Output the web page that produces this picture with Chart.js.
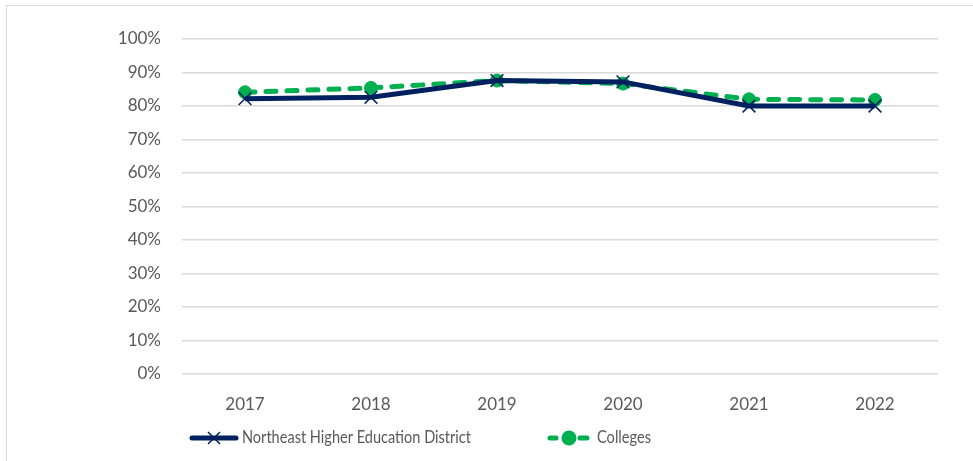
<!DOCTYPE html>
<html lang="en">
<head>
<meta charset="UTF-8"/>
<title>District vs Colleges</title>
<script src="https://cdn.jsdelivr.net/npm/chart.js"></script>
<style>
  html, body { margin:0; padding:0; background:#fff; }
  #wrap { position:relative; width:973px; height:461px; }
  #frame { position:absolute; left:6px; top:5px; width:980px; height:470px;
           border-top:1px solid #d9d9d9; border-left:1px solid #d9d9d9; box-sizing:border-box; }
</style>
</head>
<body>
<div id="wrap">
  <div id="frame"></div>
  <canvas id="rateChart" width="973" height="461"></canvas>
</div>
<script>
// data (percent)
const years    = ["2017","2018","2019","2020","2021","2022"];
const district = [82.2, 82.6, 87.6, 87.2, 80.0, 80.0];
const colleges = [84.1, 85.4, 87.6, 86.7, 82.0, 81.8];
const yTicks   = [0,10,20,30,40,50,60,70,80,90,100];

const NAVY  = '#002060';
const GREEN = '#00B050';
const FONT  = { family: 'Lato, "Liberation Sans", sans-serif', size: 17 };
const TXT   = '#595959';

// bottom legend drawn like the Excel one (line + marker + label)
const excelLegend = {
  id: 'excelLegend',
  afterDraw(chart, args, opts){
    const c = chart.ctx;
    const y = opts.y;
    chart.data.datasets.forEach((ds, i) => {
      const it = opts.items[i];
      const cx = it.mx;
      c.save();
      c.strokeStyle = ds.borderColor;
      c.lineWidth = ds.borderWidth;
      c.lineCap = 'round';
      c.beginPath();
      it.segs.forEach(s => { c.moveTo(s[0], y); c.lineTo(s[1], y); });
      c.stroke();
      c.fillStyle = ds.pointBackgroundColor;
      c.strokeStyle = ds.pointBorderColor;
      c.lineWidth = ds.pointBorderWidth;
      c.lineCap = 'butt';
      c.beginPath();
      if (ds.pointStyle === 'circle') {
        c.arc(cx, y, it.r, 0, Math.PI * 2);
        c.fill();
      } else {
        const r = it.r;
        c.moveTo(cx - r, y - r); c.lineTo(cx + r, y + r);
        c.moveTo(cx + r, y - r); c.lineTo(cx - r, y + r);
        c.stroke();
      }
      c.fillStyle = TXT;
      c.font = '17px ' + FONT.family;
      c.textBaseline = 'middle';
      c.fillText(ds.label, it.tx, y, it.tw);
      c.restore();
    });
  }
};

new Chart(document.getElementById('rateChart').getContext('2d'), {
  type: 'line',
  data: {
    labels: years,
    datasets: [{
      label: 'Northeast Higher Education District',
      data: district,
      borderColor: NAVY,
      borderWidth: 5,
      pointStyle: 'crossRot',
      pointRadius: 9,
      pointBorderWidth: 1.5,
      pointBorderColor: NAVY,
      pointBackgroundColor: NAVY,
      tension: 0
    }, {
      label: 'Colleges',
      data: colleges,
      borderColor: GREEN,
      borderWidth: 5,
      borderDash: [10, 11],
      borderCapStyle: 'round',
      pointStyle: 'circle',
      pointRadius: 6.5,
      pointBorderWidth: 1,
      pointBorderColor: GREEN,
      pointBackgroundColor: GREEN,
      tension: 0
    }]
  },
  options: {
    responsive: false,
    animation: false,
    layout: { padding: { top: 39, right: 35, left: 0, bottom: 0 } },
    scales: {
      x: {
        offset: true,
        grid: { display: false, drawTicks: false },
        border: { display: false },
        ticks: { color: TXT, font: FONT, padding: 20 },
        afterFit: s => { s.height = 87; }
      },
      y: {
        min: 0, max: 100,
        afterBuildTicks: s => { s.ticks = yTicks.map(v => ({ value: v })); },
        grid: { color: '#d9d9d9', lineWidth: 1.5, drawTicks: false },
        border: { display: false },
        ticks: { color: TXT, font: FONT, padding: 21, callback: v => v + '%' },
        afterFit: s => { s.width = 182; }
      }
    },
    plugins: {
      legend: { display: false },
      tooltip: { enabled: false },
      excelLegend: {
        y: 438,
        items: [
          { segs: [[192, 236]], mx: 214, r: 6, tx: 242, tw: 229 },
          { segs: [[550, 556], [580, 587]], mx: 569, r: 7.5, tx: 597, tw: 54 }
        ]
      }
    }
  },
  plugins: [excelLegend]
});
</script>
</body>
</html>
